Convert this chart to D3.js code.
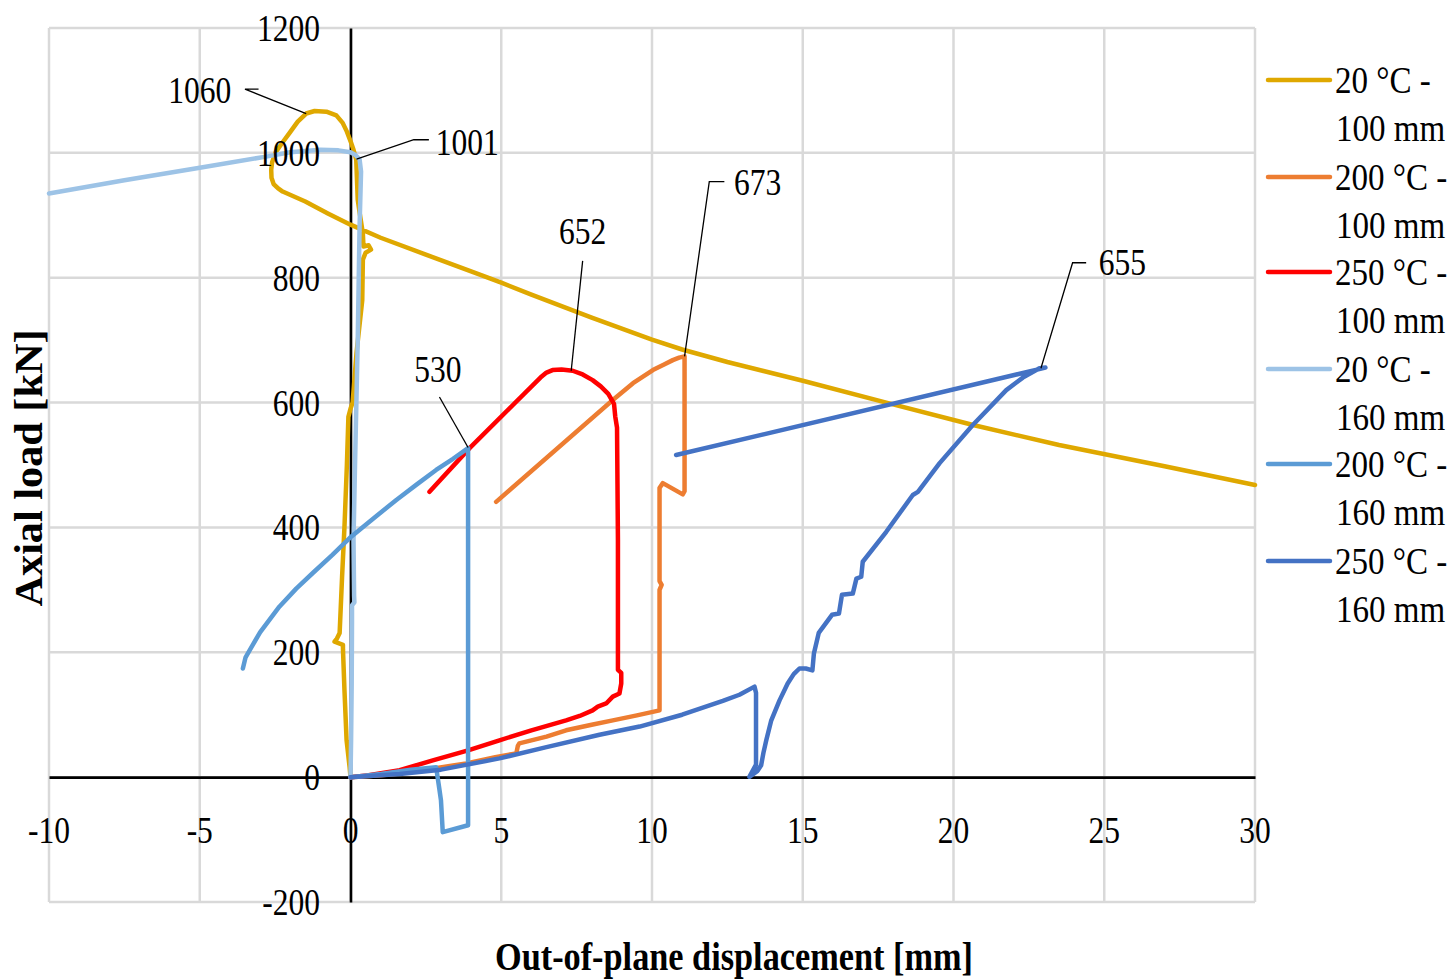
<!DOCTYPE html>
<html>
<head>
<meta charset="utf-8">
<script src="https://cdn.jsdelivr.net/npm/d3@7"></script>
<style>
html,body{margin:0;padding:0;background:#fff;}
svg{display:block;}
text{font-family:"Liberation Serif","Times New Roman",serif;fill:#000;}
</style>
</head>
<body>
<svg id="chart" width="1456" height="979"></svg>
<script>
// ---- data ----
const xTicks = [-10,-5,0,5,10,15,20,25,30];
const yTicks = [-200,0,200,400,600,800,1000,1200];
const seriesNames = ["20 °C - 100 mm","200 °C - 100 mm","250 °C - 100 mm","20 °C - 160 mm","200 °C - 160 mm","250 °C - 160 mm"];
const seriesColors = ["#DFA800","#ED7D31","#FF0000","#9DC3E6","#5B9BD5","#4472C4"];

const s20_100 = [[0,0],[-0.03,16],[-0.13,59],[-0.2,139],[-0.25,205],[-0.25,212],[-0.53,217],[-0.45,222],[-0.36,231],[-0.28,320],[-0.2,401],[-0.12,500],[-0.07,577],[0.0,590],[0.07,600],[0.2,680],[0.39,764],[0.41,829],[0.5,840],[0.68,845],[0.6,852],[0.43,850],[0.41,871],[0.3,905],[0.24,925],[0.19,989],[0.1,1005],[0.02,1016],[-0.12,1034],[-0.26,1048],[-0.47,1060],[-0.8,1066],[-1.19,1067],[-1.47,1063],[-1.75,1050],[-2.02,1032],[-2.25,1017],[-2.47,1002],[-2.6,985],[-2.63,973],[-2.62,960],[-2.55,950],[-2.4,943],[-2.25,938],[-1.5,922],[-0.75,903],[0,885],[1,864],[2.5,837],[4,810],[5,792],[6,773],[8,736],[10,701],[11,685],[12.5,665],[15,635],[17.77,600],[20.65,564],[23.5,532],[27,498],[30,468]];
const s200_100 = [[0,0],[1,3],[1.63,6],[2.5,12],[3.84,22],[4.8,32],[5.5,38],[5.55,50],[5.6,54],[6.5,65],[7.15,75],[8,84],[8.7,91],[9.5,99],[10.25,107],[10.25,300],[10.32,308],[10.25,314],[10.25,463],[10.36,471],[11.02,453],[11.08,458],[11.08,674],[10.9,672],[10.69,668],[10.4,661],[10.03,652],[9.37,631],[8.7,604],[4.83,441]];
const s250_100 = [[0,0],[0.6,3],[1.63,11],[2.73,27],[3.9,43],[4.94,59],[6,75],[7.15,91],[7.6,98],[8.03,107],[8.2,113],[8.48,118],[8.7,129],[8.92,134],[8.98,150],[8.98,167],[8.87,172],[8.87,380],[8.84,560],[8.78,578],[8.74,598],[8.55,614],[8.3,626],[8.03,636],[7.7,645],[7.37,651],[7.0,653],[6.7,652],[6.5,648],[6.3,640],[3.95,527],[2.62,457]];
const s20_160 = [[0,0],[0.02,60],[0.04,150],[0.05,250],[0.05,275],[0.13,280],[0.12,290],[0.1,380],[0.15,500],[0.24,700],[0.3,880],[0.35,970],[0.3,990],[0.15,997],[0,1001],[-0.4,1004],[-1,1005],[-2,1001],[-2.8,994],[-5,976],[-7.5,956],[-10,935]];
const s200_160 = [[-3.57,174],[-3.48,192],[-3,232],[-2.36,273],[-1.8,302],[-1.25,327],[-0.6,356],[-0.03,383],[0.8,416],[1.52,444],[2.2,469],[2.84,492],[3.4,510],[3.9,527],[3.9,-77],[3.06,-88],[3.0,-37],[2.95,-20],[2.84,16],[2,12],[1,5],[0,0]];
const s250_160 = [[0,0],[1.63,5],[3,12],[4.94,30],[6.5,48],[8.26,68],[9.59,81],[11,100],[12.35,122],[12.9,132],[13.4,145],[13.45,135],[13.45,20],[13.23,0.5],[13.5,10],[13.62,19],[13.7,40],[13.79,59],[13.95,90],[14.23,123],[14.5,150],[14.7,165],[14.89,174],[15.1,174],[15.32,171],[15.37,198],[15.53,231],[15.97,260],[16.2,262],[16.3,292],[16.66,294],[16.78,318],[16.94,321],[16.99,345],[17.77,393],[18.65,452],[18.82,457],[19.54,503],[20.64,564],[21.75,620],[22.3,640],[22.85,655],[23.05,656],[10.8,516]];
const allSeries = [s20_100,s200_100,s250_100,s20_160,s200_160,s250_160];

// peak annotations
const peakLabels = ["1060","1001","652","673","655","530"];
const peakPoints = [[-1.47,1063],[0.2,990],[7.32,651],[11.08,674],[22.9,655],[3.9,528]];

// ---- drawing ----
const svg = d3.select("#chart");
const x = d3.scaleLinear().domain([-10,30]).range([49,1255]);
const y = d3.scaleLinear().domain([-200,1200]).range([902,28]);
const SX = 0.83;

// grid
const grid = svg.append("g");
grid.selectAll("line.v").data(xTicks).enter().append("line")
  .attr("x1",d=>x(d)).attr("x2",d=>x(d)).attr("y1",y(-200)).attr("y2",y(1200))
  .attr("stroke","#d9d9d9").attr("stroke-width",2.5);
grid.selectAll("line.h").data(yTicks).enter().append("line")
  .attr("x1",x(-10)).attr("x2",x(30)).attr("y1",d=>y(d)).attr("y2",d=>y(d))
  .attr("stroke","#d9d9d9").attr("stroke-width",2.5);

// axes through zero
const xAxis = d3.axisBottom(x).tickValues(xTicks).tickSize(0);
const gx = svg.append("g").attr("transform",`translate(0,${y(0)})`).call(xAxis);
gx.select(".domain").attr("stroke","#000").attr("stroke-width",2.6);
gx.selectAll(".tick text").remove();
const yAxis = d3.axisLeft(y).tickValues(yTicks).tickSize(0);
const gy = svg.append("g").attr("transform",`translate(${x(0)},0)`).call(yAxis);
gy.select(".domain").attr("stroke","#000").attr("stroke-width",2.6);
gy.selectAll(".tick text").remove();

// series
const line = d3.line().x(d=>x(d[0])).y(d=>y(d[1]));
svg.append("g").selectAll("path").data(allSeries).enter().append("path")
  .attr("d",line).attr("fill","none")
  .attr("stroke",(d,i)=>seriesColors[i]).attr("stroke-width",4.5)
  .attr("stroke-linejoin","round").attr("stroke-linecap","round");

// tick labels (drawn over the lines, as in the reference)
svg.append("g").selectAll("text").data(xTicks).enter().append("text")
  .attr("transform",d=>`translate(${x(d)},843) scale(${SX},1)`)
  .attr("text-anchor","middle").attr("font-size",38).text(d=>d);
svg.append("g").selectAll("text").data(yTicks).enter().append("text")
  .attr("transform",d=>`translate(320,${y(d)+13}) scale(${SX},1)`)
  .attr("text-anchor","end").attr("font-size",38).text(d=>d);

// annotations
const labelPos = [[-5.0,1100],[3.87,1017],[7.7,875],[13.5,953],[25.6,825],[2.9,653]];
const elbow = [[-3.5,1102],[2.1,1021],null,[11.9,954],[23.95,824],null];
const elbowEnd = [[-3.05,1102],[2.6,1021],null,[12.4,954],[24.4,824],null];
const leaderStart = [null,null,[7.7,827],null,null,[2.95,609]];
const ann = svg.append("g");
peakLabels.forEach((lab,i)=>{
  const p = peakPoints[i];
  const pts = elbow[i] ? [elbowEnd[i], elbow[i], p] : [leaderStart[i], p];
  ann.append("path").attr("d",d3.line().x(d=>x(d[0])).y(d=>y(d[1]))(pts))
    .attr("fill","none").attr("stroke","#000").attr("stroke-width",1.3);
  ann.append("text")
    .attr("transform",`translate(${x(labelPos[i][0])},${y(labelPos[i][1])+13}) scale(${SX},1)`)
    .attr("text-anchor","middle").attr("font-size",38).text(lab);
});

// axis titles
svg.append("text").attr("x",734).attr("y",970).attr("text-anchor","middle")
  .attr("font-size",40).attr("font-weight","bold")
  .attr("textLength",478).attr("lengthAdjust","spacingAndGlyphs")
  .text("Out-of-plane displacement [mm]");
svg.append("text").attr("transform","translate(42,468) rotate(-90)").attr("text-anchor","middle")
  .attr("font-size",40).attr("font-weight","bold")
  .attr("textLength",277).attr("lengthAdjust","spacingAndGlyphs")
  .text("Axial load [kN]");

// legend
const legY = [80,177,272,369,464,561];
const leg = svg.append("g");
seriesNames.forEach((n,i)=>{
  const parts = n.split(" - ");
  leg.append("line").attr("x1",1268).attr("x2",1330).attr("y1",legY[i]).attr("y2",legY[i])
    .attr("stroke",seriesColors[i]).attr("stroke-width",4.5).attr("stroke-linecap","round");
  leg.append("text").attr("transform",`translate(1335,${legY[i]+13}) scale(0.87,1)`)
    .attr("font-size",38).text(parts[0]+" -");
  leg.append("text").attr("transform",`translate(1336,${legY[i]+61}) scale(0.87,1)`)
    .attr("font-size",38).text(parts[1]);
});
</script>
</body>
</html>
